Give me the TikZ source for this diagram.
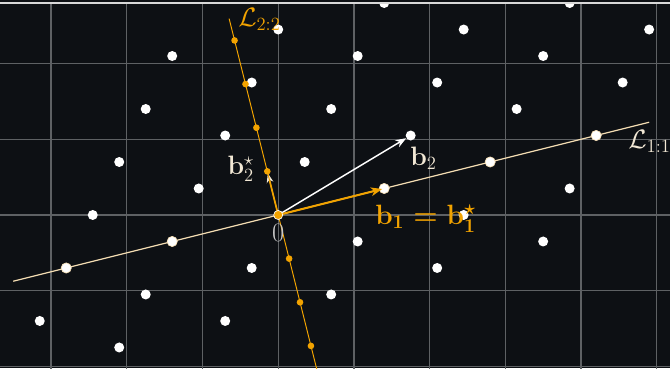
\RequirePackage{fix-cm}
\documentclass[tikz,border=0pt]{standalone}
\usepackage{amsmath}
\usetikzlibrary{arrows.meta}
\definecolor{bg}{HTML}{0D1014}
\definecolor{gridc}{HTML}{5E6164}
\definecolor{topc}{HTML}{D8D8D8}
\definecolor{orng}{RGB}{242,163,0}
\definecolor{cream}{HTML}{F5DEB3}
\definecolor{lblc}{HTML}{F2E8D5}
\definecolor{zeroc}{HTML}{C8C8C8}
\begin{document}
\begin{tikzpicture}[
  lat/.style={circle,fill=white,inner sep=0pt,minimum size=0.264cm},
  latl/.style={circle,fill=white,draw=cream,line width=0.5pt,inner sep=0pt,minimum size=0.27cm},
  odot/.style={circle,fill=orng,inner sep=0pt,minimum size=0.175cm},
  orig/.style={circle,fill=orng,draw=white,line width=0.5pt,inner sep=0pt,minimum size=0.24cm},
  lbl/.style={inner sep=0pt,font=\fontsize{20}{24}\selectfont},
  vecw/.style={white,line width=1.1pt,-{Stealth[length=8pt,width=6pt,inset=2.5pt]}},
  veco/.style={orng,line width=1.5pt,-{Stealth[length=8.5pt,width=6.5pt,inset=2.5pt]}},
  vecs/.style={orng,line width=1.3pt,-{Stealth[length=7pt,width=5pt,inset=2pt,color=lblc]}},
]
\fill[bg] (-7.35,-4.043) rectangle (10.351,5.68);
\useasboundingbox (-7.35,-4.043) rectangle (10.351,5.68);

\coordinate (O) at (0,0);
\coordinate (L1a) at (-7,-1.75);
\coordinate (L1b) at (9.8,2.45);
\coordinate (L2a) at ({4.5*-0.28824},{4.5*1.15294});
\coordinate (L2b) at ({-3.8*-0.28824},{-3.8*1.15294});

\begin{scope}
  \clip (-7.35,-4.043) rectangle (10.351,5.6);
  \draw[gridc,line width=0.9pt,step=2cm] (-8,-6) grid (12,6);
  % line L_{1:1}
  \draw[cream,line width=0.9pt] (L1a) -- (L1b);
  % lattice points
  \foreach \n in {-2,-1,1,2,3,4}{
    \foreach \p in {-2,...,3}{
      \node[lat] (lp\p x\n) at ({2.8*\p+0.7*\n},{0.7*\p+1.4*\n}) {};
    }
  }
  \foreach \p in {-2,-1,1,2,3}{
    \node[latl] (lp\p x0) at ({2.8*\p},{0.7*\p}) {};
  }
  % b2* arrow
  \coordinate (S2pos) at (-0.28824,1.15294);
  \draw[vecs,shorten >=1.5pt] (O) -- (S2pos);
  % line L_{2:2}
  \draw[orng,line width=0.75pt] (L2a) -- (L2b);
  \foreach \k in {-3,-2,-1,1,2,3,4}{
    \node[odot] (s\k) at ({\k*-0.28824},{\k*1.15294}) {};
  }
\end{scope}
\draw[topc,line width=0.9pt] (-7.35,5.6) -- (10.351,5.6);

% basis vectors
\draw[vecw] (O) -- (lp1x1);
\draw[veco,shorten >=1.5pt] (O) -- (lp1x0.center);
\node[orig] (On) at (O) {};

% labels
\node[lbl,text=zeroc,anchor=north] (zero) at (0,-0.235) {$0$};
\node[lbl,text=lblc,anchor=base west] (lb2) at (3.482,1.302) {$\mathbf{b}_2$};
\node[lbl,text=lblc,anchor=base west] (lb2s) at (-1.345,1.057) {$\mathbf{b}_2^\star$};
\node[lbl,text=orng,anchor=base west,font=\fontsize{21}{25}\selectfont\boldmath] (lb1) at (2.557,-0.246) {$\mathbf{b}_1=\mathbf{b}_1^\star$};
\node[lbl,text=lblc,anchor=base west] (lL1) at (9.242,1.744) {$\mathcal{L}_{1:1}$};
\node[lbl,text=orng,anchor=base west] (lL2) at (-1.062,4.975) {$\mathcal{L}_{2:2}$};
\end{tikzpicture}
\end{document}
